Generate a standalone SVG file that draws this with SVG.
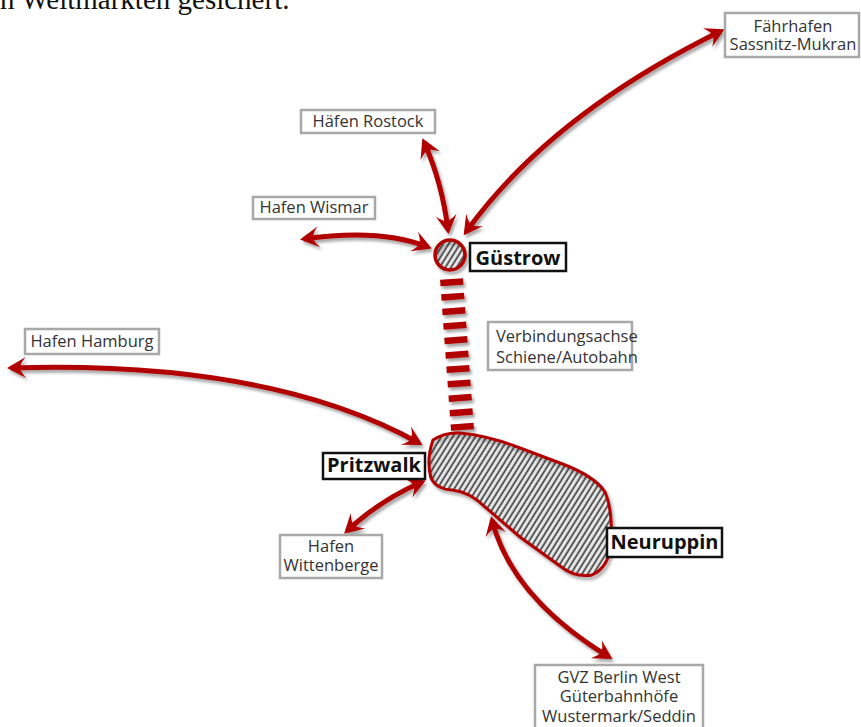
<svg xmlns="http://www.w3.org/2000/svg" width="861" height="727" viewBox="0 0 861 727">
<defs>
<style>
.lbl{fill:#fff;stroke:#a8a8a8;stroke-width:2.5}
.blk{fill:#fff;stroke:#111;stroke-width:2.5}
.t{font-family:"Open Sans","Noto Sans",sans-serif;font-size:16.5px;fill:#333}
.tb{font-family:"Open Sans","Noto Sans",sans-serif;font-size:20px;font-weight:700;fill:#111}
.arr{fill:none;stroke:#b00000;stroke-width:5;marker-start:url(#head);marker-end:url(#head)}
</style>
<marker id="head" markerUnits="userSpaceOnUse" markerWidth="28" markerHeight="28" viewBox="-21 -14 28 28" refX="0" refY="0" orient="auto-start-reverse">
<path d="M4,0 L-15,-10.5 Q-8.5,-3 -9.5,0 Q-8.5,3 -15,10.5 Z" fill="#b00000"/>
</marker>
<pattern id="hatch" patternUnits="userSpaceOnUse" width="4.8" height="10" patternTransform="rotate(32)">
<line x1="1" y1="-1" x2="1" y2="11" stroke="#111" stroke-width="1.3"/>
</pattern>
<filter id="sh" x="-20%" y="-20%" width="140%" height="140%">
<feDropShadow dx="2" dy="3" stdDeviation="1.8" flood-color="#000" flood-opacity="0.35"/>
</filter>
</defs>
<rect width="861" height="727" fill="#fff"/>
<text x="0" y="9" font-family="Liberation Serif, serif" font-size="29" fill="#111">n Weltmärkten gesichert.</text>

<g id="connectors" filter="url(#sh)">
<path class="arr" d="M466,232 Q550,115 721,31"/>
<path class="arr" d="M424,142 Q442,182 448,230"/>
<path class="arr" d="M304,239 Q380,228 428,247"/>
<path class="arr" d="M11,368 Q270,360 419,443"/>
<path class="arr" d="M347,531 Q380,500 422,482"/>
<path class="arr" d="M492,520 Q512,598 609,657"/>
<line x1="451.5" y1="279" x2="462.5" y2="430" stroke="#b00000" stroke-width="23" stroke-dasharray="6.5 8"/>
</g>

<g id="guestrow">
<circle cx="450" cy="255" r="15" fill="url(#hatch)" stroke="#b00000" stroke-width="3.5" filter="url(#sh)"/>
<rect class="blk" x="470" y="243" width="96" height="28"/>
<text class="tb" x="518" y="265" text-anchor="middle">Güstrow</text>
</g>

<g id="pritzwalk-neuruppin">
<path d="M433,440 Q445,432 460,433 Q490,436 520,448 L560,463 Q595,476 605,492 Q613,510 611,545 Q608,568 592,575 Q575,578 560,566 L520,537 L485,507 Q470,492 452,490 Q436,489 431,478 Q426,460 433,440 Z" fill="url(#hatch)" stroke="#b00000" stroke-width="3" filter="url(#sh)"/>
</g>

<g id="pritzwalk">
<rect class="blk" x="323" y="453" width="102" height="26"/>
<text class="tb" x="374" y="472" text-anchor="middle">Pritzwalk</text>
</g>

<g id="neuruppin">
<rect class="blk" x="607" y="528" width="115" height="29"/>
<text class="tb" x="664.5" y="549" text-anchor="middle">Neuruppin</text>
</g>

<g id="sassnitz">
<rect class="lbl" x="725" y="13" width="134" height="44"/>
<text class="t" x="793" y="31.5" text-anchor="middle">Fährhafen</text>
<text class="t" x="793" y="49.5" text-anchor="middle">Sassnitz-Mukran</text>
</g>

<g id="rostock">
<rect class="lbl" x="301" y="110" width="134" height="23"/>
<text class="t" x="368" y="127" text-anchor="middle">Häfen Rostock</text>
</g>

<g id="wismar">
<rect class="lbl" x="253" y="197" width="122" height="22"/>
<text class="t" x="314" y="213" text-anchor="middle">Hafen Wismar</text>
</g>

<g id="hamburg">
<rect class="lbl" x="25" y="329" width="134" height="25"/>
<text class="t" x="92" y="347" text-anchor="middle">Hafen Hamburg</text>
</g>

<g id="achse">
<rect class="lbl" x="488" y="322" width="144" height="48"/>
<text class="t" x="496" y="342" font-size="15.5">Verbindungsachse</text>
<text class="t" x="496" y="363" font-size="15.5">Schiene/Autobahn</text>
</g>

<g id="wittenberge">
<rect class="lbl" x="280" y="535" width="102" height="43"/>
<text class="t" x="331" y="552" text-anchor="middle">Hafen</text>
<text class="t" x="331" y="571" text-anchor="middle">Wittenberge</text>
</g>

<g id="gvz">
<rect class="lbl" x="535" y="665" width="168" height="70"/>
<text class="t" x="619" y="683" text-anchor="middle" font-size="17">GVZ Berlin West</text>
<text class="t" x="619" y="702" text-anchor="middle" font-size="17">Güterbahnhöfe</text>
<text class="t" x="619" y="722" text-anchor="middle" font-size="17">Wustermark/Seddin</text>
</g>
</svg>
